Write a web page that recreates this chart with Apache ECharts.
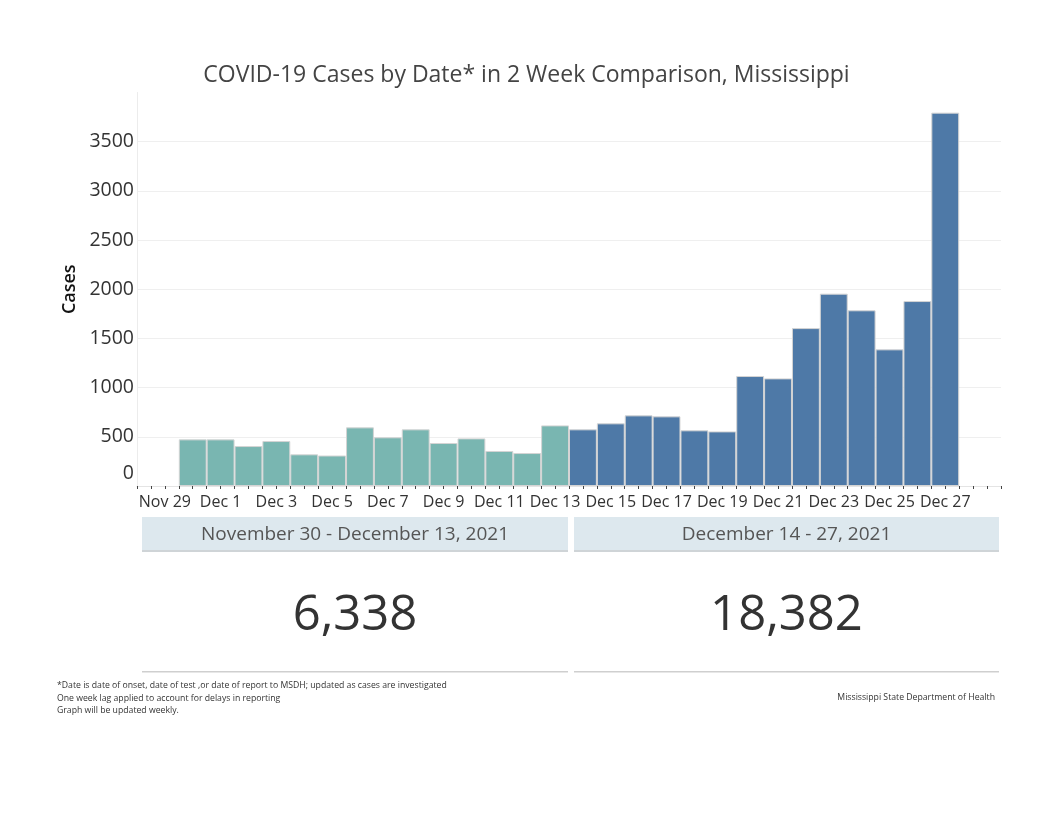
<!DOCTYPE html>
<html>
<head>
<meta charset="utf-8">
<script src="https://cdn.jsdelivr.net/npm/echarts@6/dist/echarts.min.js"></script>
<style>
  html, body { margin: 0; padding: 0; background: #fff; }
  #chart { width: 1053px; height: 813px; }
</style>
</head>
<body>
<div id="chart"></div>
<script>
(function () {
  "use strict";
  const chart = echarts.init(document.getElementById("chart"));

  // day positions on the x axis (Nov 29 = 0)
  const days = ["Nov 29", "Nov 30", "Dec 1", "Dec 2", "Dec 3", "Dec 4", "Dec 5", "Dec 6", "Dec 7",
    "Dec 8", "Dec 9", "Dec 10", "Dec 11", "Dec 12", "Dec 13", "Dec 14", "Dec 15", "Dec 16",
    "Dec 17", "Dec 18", "Dec 19", "Dec 20", "Dec 21", "Dec 22", "Dec 23", "Dec 24", "Dec 25",
    "Dec 26", "Dec 27"];

  const week1Dates = ["Nov 30", "Dec 1", "Dec 2", "Dec 3", "Dec 4", "Dec 5", "Dec 6", "Dec 7",
    "Dec 8", "Dec 9", "Dec 10", "Dec 11", "Dec 12", "Dec 13"];
  const week1Cases = [474, 474, 406, 457, 322, 310, 596, 495, 576, 437, 484, 356, 335, 616];

  const week2Dates = ["Dec 14", "Dec 15", "Dec 16", "Dec 17", "Dec 18", "Dec 19", "Dec 20",
    "Dec 21", "Dec 22", "Dec 23", "Dec 24", "Dec 25", "Dec 26", "Dec 27"];
  const week2Cases = [576, 637, 718, 708, 566, 555, 1118, 1094, 1605, 1955, 1786, 1389, 1880, 3795];

  const periodLabels = ["November 30 - December 13, 2021", "December 14 - 27, 2021"];
  const periodTotals = ["6,338", "18,382"];

  const footnotes = [
    "*Date is date of onset, date of test ,or date of report to MSDH; updated as cases are investigated",
    "One week lag applied to account for delays in reporting",
    "Graph will be updated weekly.",
  ];
  const source = "Mississippi State Department of Health";

  const FONT = "'Open Sans', 'Noto Sans', sans-serif";
  const TEAL = "#79b6b1";
  const BLUE = "#4e79a7";

  const toPairs = (dates, vals) => dates.map((d, i) => [days.indexOf(d), vals[i]]);

  // panels under the plot
  const panels = [[142, 426], [574, 425]];
  const graphic = [];
  panels.forEach(([x, w], i) => {
    graphic.push(
      { type: "rect", left: x, top: 517, shape: { width: w, height: 33 }, style: { fill: "#dde8ee" } },
      { type: "rect", left: x, top: 550, shape: { width: w, height: 2 }, style: { fill: "#cfd4d7" } },
      { type: "rect", left: x, top: 671, shape: { width: w, height: 1.5 }, style: { fill: "#cfcfcf" } },
      { type: "text", x: x + w / 2, y: 535,
        style: { text: periodLabels[i], font: `19px ${FONT}`, fill: "#555", align: "center", verticalAlign: "middle" } },
      { type: "text", x: x + w / 2, y: 616,
        style: { text: periodTotals[i], font: `49px ${FONT}`, fill: "#333", align: "center", verticalAlign: "middle" } }
    );
  });
  footnotes.forEach((t, i) => {
    graphic.push({ type: "text", x: 57, y: 686 + i * 12.5,
      style: { text: t, font: `8.7px ${FONT}`, fill: "#333", verticalAlign: "middle" } });
  });
  graphic.push({ type: "text", x: 995, y: 698,
    style: { text: source, font: `8.7px ${FONT}`, fill: "#333", align: "right", verticalAlign: "middle" } });

  chart.setOption({
    animation: false,
    backgroundColor: "#fff",
    textStyle: { fontFamily: FONT },
    title: {
      text: "COVID-19 Cases by Date* in 2 Week Comparison, Mississippi",
      left: "center", top: 59,
      textStyle: { fontSize: 23, fontWeight: "normal", color: "#444", fontFamily: FONT },
    },
    grid: { left: 137, right: 52, top: 92.5, bottom: 327, outerBoundsMode: "none" },
    xAxis: {
      type: "value", min: -1, max: 30, interval: 0.5,
      axisLine: { show: true, lineStyle: { color: "#e4e4e4", width: 1 } },
      axisTick: { show: true, length: 3, lineStyle: { color: "#444", width: 1 } },
      splitLine: { show: false },
      axisLabel: {
        fontSize: 16, color: "#333", margin: 8, fontFamily: FONT,
        formatter: v => (Number.isInteger(v) && v >= 0 && v % 2 === 0 && days[v]) ? days[v] : "",
      },
    },
    yAxis: {
      type: "value", min: 0, max: 4000, interval: 500,
      name: "Cases", nameLocation: "middle", nameGap: 53,
      nameTextStyle: { fontSize: 18, color: "#111", fontWeight: 600, fontFamily: FONT },
      axisLine: { show: true, onZero: false, lineStyle: { color: "#ececec" } },
      axisTick: { show: false },
      splitLine: { show: true, showMinLine: false, showMaxLine: false, lineStyle: { color: "#efefef" } },
      axisLabel: {
        fontSize: 19.5, color: "#333", margin: 3, fontFamily: FONT,
        showMaxLabel: false,
        formatter: v => v === 0 ? "{z|0}" : (v >= 4000 ? "" : String(v)),
        rich: { z: { fontSize: 19.5, color: "#333", fontFamily: FONT, padding: [0, 0, 26, 0] } },
      },
    },
    series: [
      {
        name: "Nov 30 - Dec 13", type: "bar", data: toPairs(week1Dates, week1Cases),
        barWidth: "100%", barGap: "-100%",
        itemStyle: { color: TEAL, borderColor: "#d4d4d4", borderWidth: 1 },
      },
      {
        name: "Dec 14 - Dec 27", type: "bar", data: toPairs(week2Dates, week2Cases),
        barWidth: "100%", barGap: "-100%",
        itemStyle: { color: BLUE, borderColor: "#d4d4d4", borderWidth: 1 },
      },
    ],
    graphic: graphic,
  });

  window.addEventListener("resize", () => chart.resize());
})();
</script>
</body>
</html>
